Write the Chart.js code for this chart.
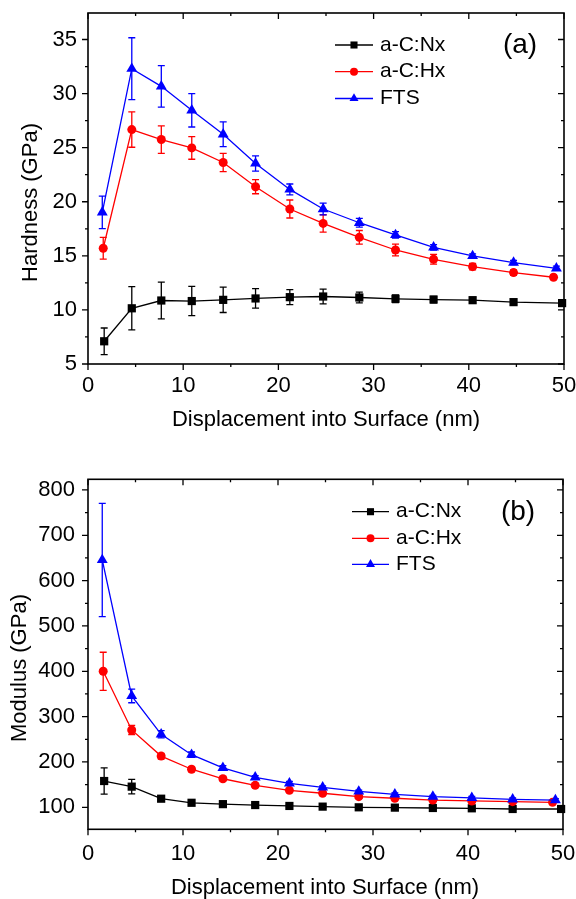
<!DOCTYPE html>
<html>
<head>
<meta charset="utf-8">
<script src="https://cdn.jsdelivr.net/npm/chart.js@4/dist/chart.umd.min.js"></script>
<style>
html,body{margin:0;padding:0;background:#ffffff;}
#wrap{position:relative;width:576px;height:899px;overflow:hidden;}
.panel{position:absolute;left:0;width:576px;}
</style>
</head>
<body>
<div id="wrap">
  <div class="panel" style="top:0;height:450px"><canvas id="cA" width="576" height="450" style="width:576px;height:450px"></canvas></div>
  <div class="panel" style="top:450px;height:449px"><canvas id="cB" width="576" height="449" style="width:576px;height:449px"></canvas></div>
</div>
<script>
// ---------------- DATA ----------------
const seriesNames = ['a-C:Nx', 'a-C:Hx', 'FTS'];

// displacement into surface (nm) for each series
const depthNx  = [1.7, 4.6, 7.7, 10.9, 14.2, 17.6, 21.2, 24.7, 28.5, 32.3, 36.3, 40.4, 44.7, 49.8];
const depthHx  = [1.6, 4.6, 7.7, 10.9, 14.2, 17.6, 21.2, 24.7, 28.5, 32.3, 36.3, 40.4, 44.7, 48.9];
const depthFTS = [1.5, 4.6, 7.7, 10.9, 14.2, 17.6, 21.2, 24.7, 28.5, 32.3, 36.3, 40.4, 44.7, 49.2];

// (a) hardness (GPa) and error
const hardNx     = [7.1, 10.15, 10.87, 10.82, 10.93, 11.06, 11.18, 11.24, 11.15, 11.03, 10.96, 10.9, 10.72, 10.63];
const hardNxErr  = [1.23, 2.0, 1.7, 1.35, 1.17, 0.9, 0.7, 0.68, 0.5, 0.35, 0.3, 0.25, 0.2, 0.2];
const hardHx     = [15.7, 26.67, 25.75, 24.98, 23.63, 21.39, 19.33, 18.0, 16.71, 15.54, 14.68, 14.0, 13.45, 13.02];
const hardHxErr  = [1.0, 1.63, 1.27, 1.05, 0.85, 0.65, 0.83, 0.8, 0.63, 0.55, 0.45, 0.3, 0.25, 0.2];
const hardFTS    = [19.02, 32.3, 30.67, 28.45, 26.24, 23.54, 21.14, 19.33, 18.06, 16.93, 15.79, 14.99, 14.38, 13.85];
const hardFTSErr = [1.5, 2.86, 1.92, 1.54, 1.15, 0.7, 0.5, 0.55, 0.4, 0.3, 0.25, 0.2, 0.2, 0.2];

// (b) modulus (GPa) and error
const modNx     = [158, 145.6, 119, 110, 107, 105, 103, 101.5, 100, 99.3, 98.5, 97.8, 96.3, 96.3];
const modNxErr  = [29, 16, 6, 4, 3, 3, 3, 3, 3, 3, 3, 3, 3, 3];
const modHx     = [400, 270.6, 213, 184, 163, 148.5, 137.5, 131, 123.5, 120, 116, 114, 112.5, 111];
const modHxErr  = [42, 10, 6, 5, 4, 4, 3, 3, 3, 3, 3, 3, 3, 3];
const modFTS    = [645.6, 345.6, 261, 216, 187, 166, 153, 144, 135, 128.7, 123.5, 121, 117.6, 116];
const modFTSErr = [125, 15, 8, 6, 5, 4, 4, 3, 3, 3, 3, 3, 3, 3];

// tick labels
const xTicks     = [0, 10, 20, 30, 40, 50];
const hardTicks  = [5, 10, 15, 20, 25, 30, 35];
const modTicks   = [100, 200, 300, 400, 500, 600, 700, 800];

// ---------------- STYLE ----------------
const FONT = "'Liberation Sans', Arial, Helvetica, sans-serif";
const colors  = ['#000000', '#ff0000', '#0000ff'];
const markers = ['rect', 'circle', 'triangle'];
const radii   = [5.8, 4.5, 6.3];

function pts(xs, ys) { return xs.map((x, i) => ({ x: x, y: ys[i] })); }

function drawMarker(ctx, style, x, y, r, color) {
  ctx.fillStyle = color;
  ctx.beginPath();
  if (style === 'rect') {
    const s = r * Math.SQRT1_2;
    ctx.rect(x - s, y - s, 2 * s, 2 * s);
  } else if (style === 'circle') {
    ctx.arc(x, y, r, 0, Math.PI * 2);
  } else {
    const w = r * Math.sqrt(3) / 2;
    ctx.moveTo(x, y - r);
    ctx.lineTo(x + w, y + r / 2);
    ctx.lineTo(x - w, y + r / 2);
    ctx.closePath();
  }
  ctx.fill();
}

const decoPlugin = {
  id: 'deco',
  beforeDatasetsDraw(chart, args, o) {
    const ctx = chart.ctx, xs = chart.scales.x, ys = chart.scales.y;
    ctx.save();
    ctx.lineWidth = 1.3;
    chart.data.datasets.forEach((ds, i) => {
      const err = o.errors[i];
      ctx.strokeStyle = ds.borderColor;
      ds.data.forEach((p, j) => {
        const e = err[j];
        if (!e) return;
        const px = xs.getPixelForValue(p.x);
        const y1 = ys.getPixelForValue(p.y + e);
        const y2 = ys.getPixelForValue(p.y - e);
        ctx.beginPath();
        ctx.moveTo(px, y1); ctx.lineTo(px, y2);
        ctx.moveTo(px - 3.5, y1); ctx.lineTo(px + 3.5, y1);
        ctx.moveTo(px - 3.5, y2); ctx.lineTo(px + 3.5, y2);
        ctx.stroke();
      });
    });
    ctx.restore();
  },
  afterDraw(chart, args, o) {
    const ctx = chart.ctx, a = chart.chartArea, xs = chart.scales.x, ys = chart.scales.y;
    ctx.save();
    // frame
    ctx.strokeStyle = '#000';
    ctx.lineWidth = 1.6;
    ctx.strokeRect(a.left, a.top, a.right - a.left, a.bottom - a.top);
    // ticks
    ctx.lineWidth = 1.3;
    ctx.beginPath();
    const tx = (v, len) => {
      const p = xs.getPixelForValue(v);
      ctx.moveTo(p, a.bottom); ctx.lineTo(p, a.bottom + len);
      ctx.moveTo(p, a.top); ctx.lineTo(p, a.top + len);
    };
    const ty = (v, len) => {
      const p = ys.getPixelForValue(v);
      ctx.moveTo(a.left, p); ctx.lineTo(a.left - len, p);
      ctx.moveTo(a.right, p); ctx.lineTo(a.right - len, p);
    };
    xs.ticks.forEach(t => tx(t.value, 6));
    for (let i = 0; i < xs.ticks.length - 1; i++) tx((xs.ticks[i].value + xs.ticks[i + 1].value) / 2, 3);
    ys.ticks.forEach(t => ty(t.value, 6));
    for (let i = 0; i < ys.ticks.length - 1; i++) ty((ys.ticks[i].value + ys.ticks[i + 1].value) / 2, 3);
    const step = ys.ticks[1].value - ys.ticks[0].value;
    const lastMinor = ys.ticks[ys.ticks.length - 1].value + step / 2;
    if (lastMinor < ys.max) ty(lastMinor, 3);
    const firstMinor = ys.ticks[0].value - step / 2;
    if (firstMinor > ys.min) ty(firstMinor, 3);
    ctx.stroke();

    // legend
    const L = o.legend;
    ctx.font = '21px ' + FONT;
    ctx.textBaseline = 'middle';
    ctx.textAlign = 'left';
    chart.data.datasets.forEach((ds, i) => {
      const y = L.rows[i];
      ctx.strokeStyle = ds.borderColor;
      ctx.lineWidth = 1.3;
      ctx.beginPath();
      ctx.moveTo(L.x1, y); ctx.lineTo(L.x2, y);
      ctx.stroke();
      drawMarker(ctx, markers[i], (L.x1 + L.x2) / 2, y, L.r[i], ds.borderColor);
      ctx.fillStyle = '#000';
      ctx.fillText(ds.label, L.tx, y);
    });

    // panel tag
    ctx.font = '28px ' + FONT;
    ctx.textAlign = 'center';
    ctx.fillStyle = '#000';
    ctx.fillText(o.tag.text, o.tag.x, o.tag.y);

    // axis titles
    ctx.font = '22px ' + FONT;
    ctx.fillText(o.xTitle.text, o.xTitle.x, o.xTitle.y);
    ctx.save();
    ctx.translate(o.yTitle.x, o.yTitle.y);
    ctx.rotate(-Math.PI / 2);
    ctx.fillText(o.yTitle.text, 0, 0);
    ctx.restore();
    ctx.restore();
  }
};

function makeDataset(i, xs, ys) {
  return {
    label: seriesNames[i],
    data: pts(xs, ys),
    borderColor: colors[i],
    backgroundColor: colors[i],
    borderWidth: 1.3,
    pointStyle: markers[i],
    pointRadius: radii[i],
    pointHoverRadius: radii[i],
    pointBorderWidth: 0,
    tension: 0,
    clip: false,
    order: 3 - i
  };
}

function buildPanel(id, g) {
  const tickFont = { family: FONT, size: 22 };
  return new Chart(document.getElementById(id), {
    type: 'line',
    data: { datasets: g.datasets },
    options: {
      responsive: false,
      devicePixelRatio: 1,
      animation: false,
      events: [],
      layout: { padding: { left: 0, top: g.top, right: g.W - g.right, bottom: 0 } },
      plugins: {
        legend: { display: false },
        tooltip: { enabled: false },
        deco: {
          errors: g.errors,
          legend: g.legend,
          tag: g.tag,
          xTitle: g.xTitle,
          yTitle: g.yTitle
        }
      },
      scales: {
        x: {
          type: 'linear',
          position: 'bottom',
          min: 0, max: 50,
          grid: { display: false, drawTicks: false },
          border: { display: false },
          ticks: { font: tickFont, color: '#000', padding: g.xPad, maxRotation: 0, autoSkip: false },
          afterBuildTicks: s => { s.ticks = xTicks.map(v => ({ value: v })); },
          afterFit: s => { s.height = g.H - g.bottom; s.paddingLeft = 0; s.paddingRight = 0; }
        },
        y: {
          type: 'linear',
          position: 'left',
          min: g.yMin, max: g.yMax,
          grid: { display: false, drawTicks: false },
          border: { display: false },
          ticks: { font: tickFont, color: '#000', padding: g.yPad, autoSkip: false },
          afterBuildTicks: s => { s.ticks = g.yTicks.map(v => ({ value: v })); },
          afterFit: s => { s.width = g.left; s.paddingTop = 0; s.paddingBottom = 0; }
        }
      }
    },
    plugins: [decoPlugin]
  });
}

buildPanel('cA', {
  W: 576, H: 450, left: 88, right: 564, top: 13, bottom: 364,
  yMin: 5, yMax: 37.45, yTicks: hardTicks, xPad: 8.5, yPad: 11,
  datasets: [makeDataset(0, depthNx, hardNx), makeDataset(1, depthHx, hardHx), makeDataset(2, depthFTS, hardFTS)],
  errors: [hardNxErr, hardHxErr, hardFTSErr],
  legend: { x1: 335, x2: 373, tx: 380, rows: [45, 71.7, 98.5], r: [5, 4, 5.2] },
  tag: { text: '(a)', x: 520, y: 45 },
  xTitle: { text: 'Displacement into Surface (nm)', x: 326, y: 420 },
  yTitle: { text: 'Hardness (GPa)', x: 31, y: 202.5 }
});

buildPanel('cB', {
  W: 576, H: 449, left: 88, right: 563, top: 29.3, bottom: 379.3,
  yMin: 51.5, yMax: 823.5, yTicks: modTicks, xPad: 11.5, yPad: 13,
  datasets: [makeDataset(0, depthNx, modNx), makeDataset(1, depthHx, modHx), makeDataset(2, depthFTS, modFTS)],
  errors: [modNxErr, modHxErr, modFTSErr],
  legend: { x1: 352, x2: 389, tx: 396, rows: [61.7, 88.3, 114.3], r: [5, 4, 5.2] },
  tag: { text: '(b)', x: 518, y: 62 },
  xTitle: { text: 'Displacement into Surface (nm)', x: 325, y: 437.5 },
  yTitle: { text: 'Modulus (GPa)', x: 19.5, y: 218 }
});
</script>
</body>
</html>
